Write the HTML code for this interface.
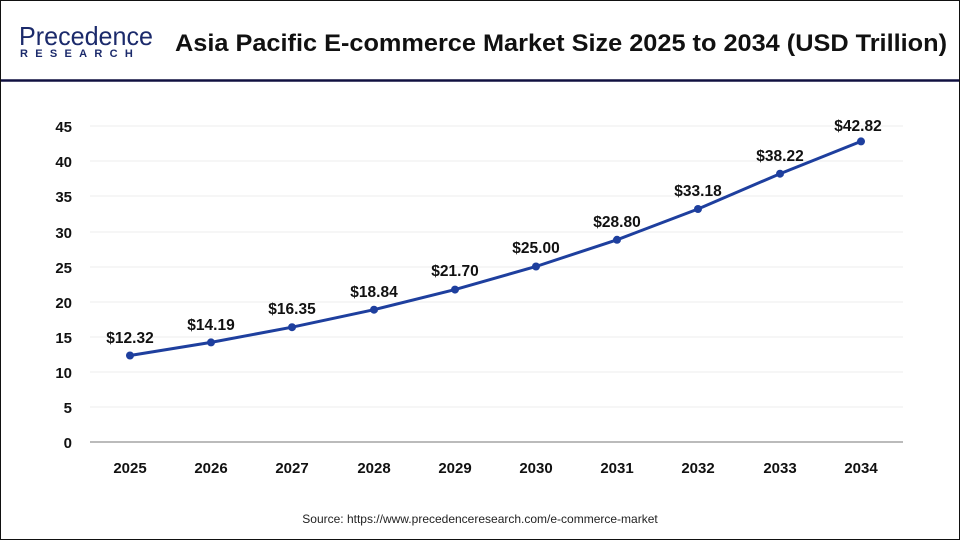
<!DOCTYPE html>
<html><head><style>
body{margin:0;width:960px;height:540px;overflow:hidden;background:#fff;font-family:"Liberation Sans",Arial,sans-serif}
.frame{position:absolute;left:0;top:0;width:958px;height:538px;border:1px solid #111}
</style></head><body>
<div class="frame"></div>
<svg width="960" height="540" style="position:absolute;left:0;top:0" font-family="Liberation Sans, Arial, sans-serif">
<text x="19" y="45" font-size="26" fill="#1b2a6b" textLength="134" lengthAdjust="spacingAndGlyphs">Precedence</text>
<text x="20" y="57" font-size="11" fill="#1b2a6b" font-weight="bold" letter-spacing="7.3">RESEARCH</text>
<text x="175" y="51" font-size="24" font-weight="bold" fill="#111" textLength="772" lengthAdjust="spacingAndGlyphs">Asia Pacific E-commerce Market Size 2025 to 2034 (USD Trillion)</text>
<line x1="1" y1="80.5" x2="959" y2="80.5" stroke="#101040" stroke-width="2.5"/>
<g stroke="#ececec" stroke-width="1">
<line x1="90" x2="903" y1="407" y2="407"/><line x1="90" x2="903" y1="372" y2="372"/>
<line x1="90" x2="903" y1="337" y2="337"/><line x1="90" x2="903" y1="302" y2="302"/>
<line x1="90" x2="903" y1="267" y2="267"/><line x1="90" x2="903" y1="232" y2="232"/>
<line x1="90" x2="903" y1="196" y2="196"/><line x1="90" x2="903" y1="161" y2="161"/>
<line x1="90" x2="903" y1="126" y2="126"/>
</g>
<line x1="90" x2="903" y1="442" y2="442" stroke="#bbb" stroke-width="2"/>
<g font-size="15" font-weight="bold" fill="#111" text-anchor="end">
<text x="72" y="448">0</text><text x="72" y="413">5</text><text x="72" y="378">10</text>
<text x="72" y="343">15</text><text x="72" y="308">20</text><text x="72" y="273">25</text>
<text x="72" y="238">30</text><text x="72" y="202">35</text><text x="72" y="167">40</text>
<text x="72" y="132">45</text>
</g>
<g font-size="15" font-weight="bold" fill="#111" text-anchor="middle">
<text x="130" y="473">2025</text><text x="211" y="473">2026</text><text x="292" y="473">2027</text>
<text x="374" y="473">2028</text><text x="455" y="473">2029</text><text x="536" y="473">2030</text>
<text x="617" y="473">2031</text><text x="698" y="473">2032</text><text x="780" y="473">2033</text>
<text x="861" y="473">2034</text>
</g>
<polyline fill="none" stroke="#1e3f9e" stroke-width="3" points="130,355.5 211,342.4 292,327.2 374,309.7 455,289.6 536,266.5 617,239.8 698,209 780,173.7 861,141.4"/>
<g fill="#1e3f9e">
<circle cx="130" cy="355.5" r="4"/><circle cx="211" cy="342.4" r="4"/><circle cx="292" cy="327.2" r="4"/>
<circle cx="374" cy="309.7" r="4"/><circle cx="455" cy="289.6" r="4"/><circle cx="536" cy="266.5" r="4"/>
<circle cx="617" cy="239.8" r="4"/><circle cx="698" cy="209" r="4"/><circle cx="780" cy="173.7" r="4"/>
<circle cx="861" cy="141.4" r="4"/>
</g>
<g font-size="15.5" font-weight="bold" fill="#111" text-anchor="middle">
<text x="130" y="343">$12.32</text><text x="211" y="330">$14.19</text><text x="292" y="314">$16.35</text>
<text x="374" y="297">$18.84</text><text x="455" y="276">$21.70</text><text x="536" y="253">$25.00</text>
<text x="617" y="227">$28.80</text><text x="698" y="196">$33.18</text><text x="780" y="161">$38.22</text>
<text x="858" y="131">$42.82</text>
</g>
<text x="480" y="523" font-size="12" fill="#222" text-anchor="middle">Source: https://www.precedenceresearch.com/e-commerce-market</text>
</svg>
</body></html>
